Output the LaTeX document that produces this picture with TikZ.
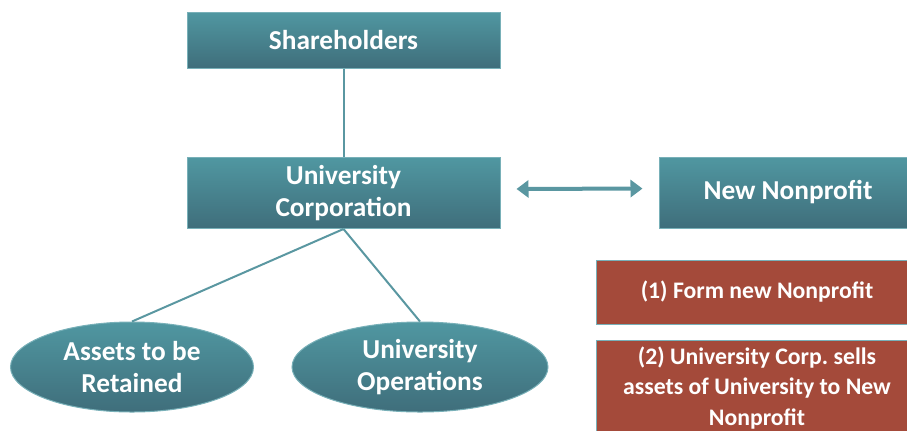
\documentclass[tikz,border=0pt]{standalone}
\usepackage{fontspec}
\setmainfont{Carlito}
\usetikzlibrary{arrows.meta,shapes.geometric}

\definecolor{tealtop}{HTML}{5097A1}
\definecolor{tealbot}{HTML}{3F6E7B}
\definecolor{tealline}{HTML}{5A97A1}
\definecolor{tealedge}{HTML}{78B0B8}
\definecolor{brick}{HTML}{A44A3A}

\begin{document}
\begin{tikzpicture}[x=0.75pt,y=-0.75pt]
    \clip (0,0) rectangle (907,430);

    \begin{scope}[every node/.style={draw=tealedge,line width=0.75pt,top color=tealtop,bottom color=tealbot,
                  text=white,font=\bfseries\fontsize{20.5}{24}\selectfont,align=center,inner sep=0pt}]
      \node[minimum width=234.75pt,minimum height=42pt] (share) at (343.5,40) {Shareholders};
      \node[minimum width=234.75pt,minimum height=53.25pt] (corp) at (343.5,193) {University\\Corporation};
      \node[minimum width=193.5pt,minimum height=53.25pt] (newnp) at (788,192.5) {New Nonprofit};
      \node[ellipse,minimum width=182.25pt,minimum height=67.5pt] (assets) at (132,367) {Assets to be\\Retained};
      \node[ellipse,minimum width=192pt,minimum height=67.5pt] (ops) at (420,367) {University\\Operations};
    \end{scope}

    \begin{scope}[every node/.style={draw=tealedge,line width=0.75pt,fill=brick,text=white,
                  font=\bfseries\fontsize{17.8}{23}\selectfont,align=center,inner sep=0pt,minimum width=241.5pt}]
      \node[minimum height=48pt] (step1) at (757,292) {(1) Form new Nonprofit};
      \node[minimum height=72pt] (step2) at (757,388) {(2) University Corp.\ sells\\assets of University to New\\Nonprofit};
    \end{scope}

    \begin{scope}[tealline,line width=1.5pt]
      \draw (share) -- (corp);
      \draw (corp.south) -- (assets.north);
      \draw (corp.south) -- (ops.north);
      \draw[line width=3pt,{Triangle[width=12.75pt,length=9pt]}-{Triangle[width=12.75pt,length=9pt]},
            shorten <=12pt,shorten >=12pt] ([yshift=3pt]corp.east) -- ([yshift=3pt]newnp.west);
    \end{scope}
\end{tikzpicture}
\end{document}
